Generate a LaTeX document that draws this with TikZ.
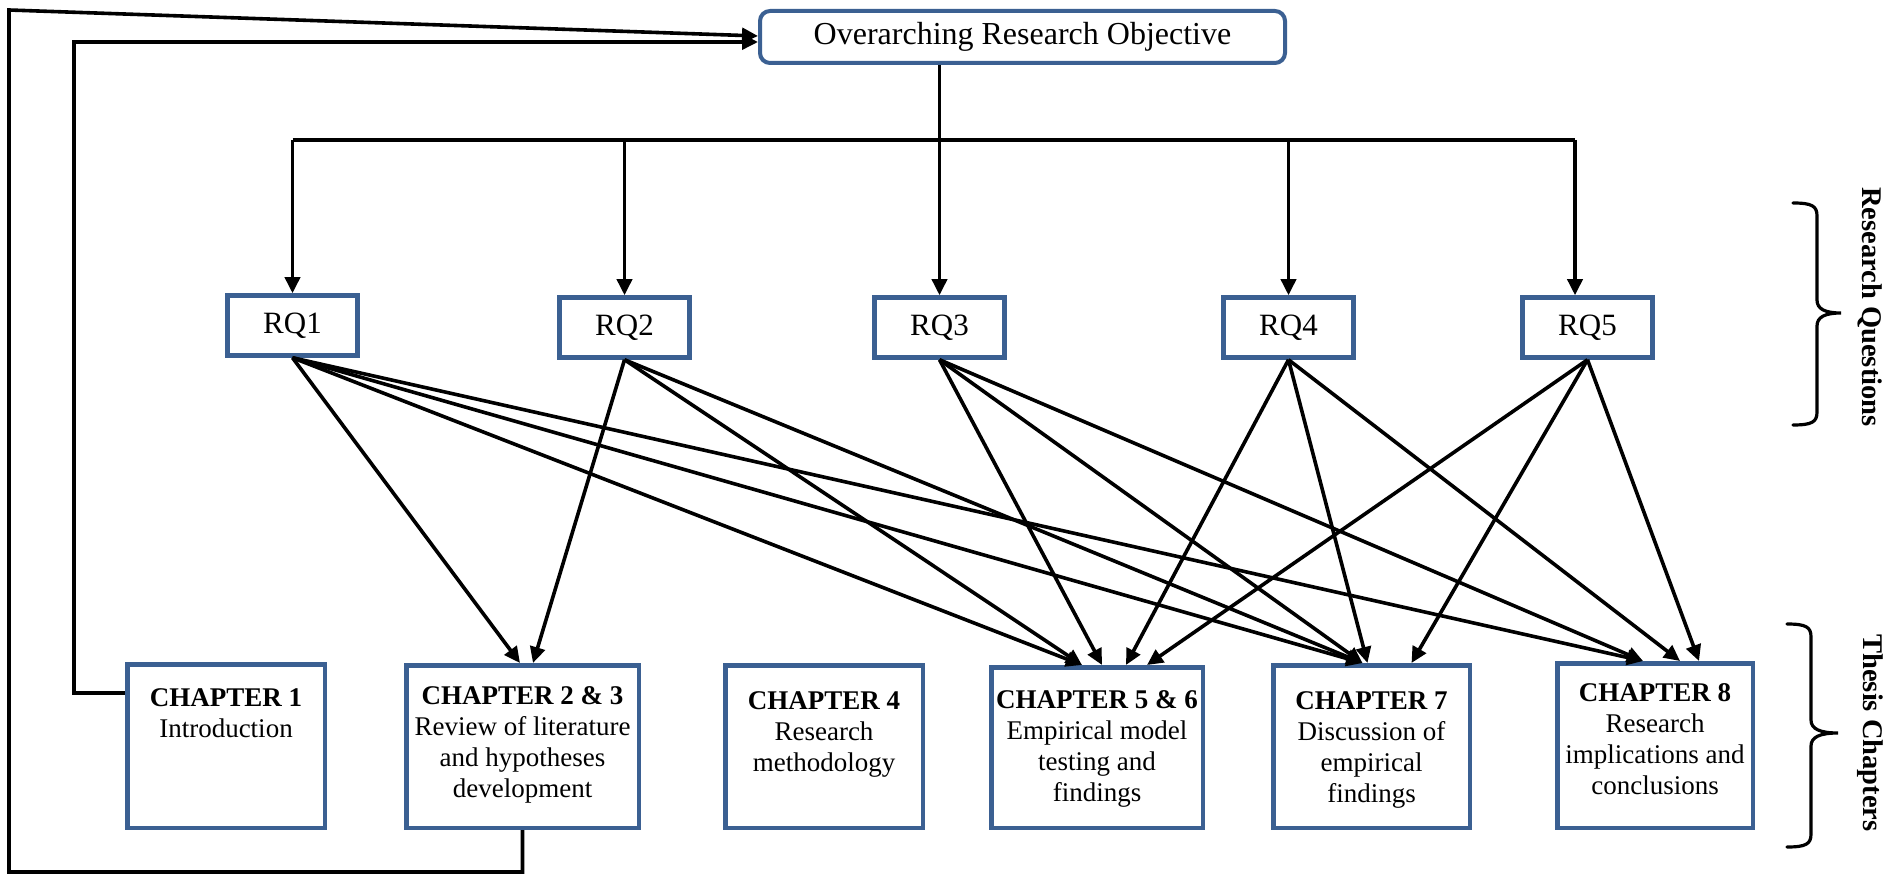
\documentclass[tikz,border=0pt]{standalone}
\usepackage{fontspec}
\setmainfont{Liberation Serif}
\usetikzlibrary{arrows.meta}
\definecolor{boxblue}{HTML}{3B6092}
\begin{document}
\begin{tikzpicture}[x=1pt,y=-1pt,
  topbox/.style={draw=boxblue, line width=4pt, rounded corners=10pt, minimum width=525pt, minimum height=52pt, inner sep=0pt, font=\fontsize{32}{36}\selectfont},
  rqbox/.style={draw=boxblue, line width=4.5pt, minimum width=130pt, minimum height=60pt, inner sep=0pt, font=\fontsize{31}{36}\selectfont},
  chbox/.style={draw=boxblue, line width=4.5pt, inner sep=0pt},
  chtxt/.style={anchor=north, align=center, inner sep=0pt, font=\fontsize{27}{31}\selectfont},
  conn/.style={line width=3.6pt, -{Triangle[length=16pt,width=15pt]}},
  wire/.style={line width=3.8pt},
  bracepath/.style={line width=3.2pt, line cap=round},
  sidelabel/.style={rotate=-90, inner sep=0pt, font=\fontsize{28.5}{32}\selectfont\bfseries}
]
\useasboundingbox (0,0) rectangle (1901,874);

% objective and research questions
\node[topbox] (top) at (1022.5,37) {Overarching Research Objective};
\node[rqbox] (rq1) at (292.5,325.5) {RQ1};
\node[rqbox] (rq2) at (624.5,327.5) {RQ2};
\node[rqbox] (rq3) at (939.5,327.5) {RQ3};
\node[rqbox] (rq4) at (1288.5,327.5) {RQ4};
\node[rqbox] (rq5) at (1587.5,327.5) {RQ5};

% thesis chapters
\node[chbox, minimum width=197.5pt, minimum height=163.5pt] (ch1) at (226,746) {};
\node[chbox, minimum width=232.5pt, minimum height=162.5pt] (ch23) at (522.5,746.5) {};
\node[chbox, minimum width=197.5pt, minimum height=162.5pt] (ch4) at (824,746.5) {};
\node[chbox, minimum width=211.5pt, minimum height=160.5pt] (ch56) at (1097,747.5) {};
\node[chbox, minimum width=196.5pt, minimum height=162.5pt] (ch7) at (1371.5,746.5) {};
\node[chbox, minimum width=195.5pt, minimum height=164.5pt] (ch8) at (1655,745.5) {};

\node[chtxt] (ch1t) at ([yshift=-26pt]ch1.north) {\textbf{CHAPTER 1}\\Introduction};
\node[chtxt] (ch23t) at ([yshift=-23pt]ch23.north) {\textbf{CHAPTER 2 \& 3}\\Review of literature\\and hypotheses\\development};
\node[chtxt] (ch4t) at ([yshift=-28pt]ch4.north) {\textbf{CHAPTER 4}\\Research\\methodology};
\node[chtxt] (ch56t) at ([yshift=-25pt]ch56.north) {\textbf{CHAPTER 5 \& 6}\\Empirical model\\testing and\\findings};
\node[chtxt] (ch7t) at ([yshift=-28pt]ch7.north) {\textbf{CHAPTER 7}\\Discussion of\\empirical\\findings};
\node[chtxt] (ch8t) at ([yshift=-22pt]ch8.north) {\textbf{CHAPTER 8}\\Research\\implications and\\conclusions};

% distribution bus from the objective to the questions
\coordinate (bus) at (940,140);
\coordinate (rq5in) at ([xshift=-12.5pt]rq5.north);
\draw[wire] (bus -| rq1.north) -- (bus -| rq5in);
\draw[conn] (top.south -| rq3.north) -- (rq3.north);
\draw[conn] (bus -| rq1.north) -- (rq1.north);
\draw[conn] (bus -| rq2.north) -- (rq2.north);
\draw[conn] (bus -| rq4.north) -- (rq4.north);
\draw[conn] (bus -| rq5in) -- (rq5in);

% feedback loops back to the objective
\coordinate (loopA) at (74,42);
\draw[conn] ([yshift=53pt]ch1.west) -| (loopA) -- (top.west |- loopA);
\coordinate (loopB) at (9,10);
\coordinate (loopBlow) at (9,872);
\draw[conn] (ch23.south) |- (loopBlow) -- (loopB) -- ([yshift=1pt]top.west);

% questions addressed in chapters
\draw[conn] (rq1.south) -- ([xshift=-2.5pt]ch23.north);
\draw[conn] (rq1.south) -- ([xshift=-15pt]ch56.north);
\draw[conn] (rq1.south) -- ([xshift=-9pt]ch7.north);
\draw[conn] (rq1.south) -- ([xshift=-12pt]ch8.north);
\draw[conn] (rq2.south) -- ([xshift=10.5pt]ch23.north);
\draw[conn] (rq2.south) -- ([xshift=-15pt]ch56.north);
\draw[conn] (rq2.south) -- ([xshift=-9pt]ch7.north);
\draw[conn] (rq3.south) -- ([xshift=5pt]ch56.north);
\draw[conn] (rq3.south) -- ([xshift=-9pt]ch7.north);
\draw[conn] (rq3.south) -- ([xshift=-12pt]ch8.north);
\draw[conn] (rq4.south) -- ([xshift=29pt]ch56.north);
\draw[conn] (rq4.south) -- ([xshift=-4pt]ch7.north);
\draw[conn] (rq4.south) -- ([xshift=25pt]ch8.north);
\draw[conn] (rq5.south) -- ([xshift=50pt]ch56.north);
\draw[conn] (rq5.south) -- ([xshift=40pt]ch7.north);
\draw[conn] (rq5.south) -- ([xshift=44pt]ch8.north);

% side braces with their labels
\draw[bracepath] (1793,203) .. controls (1812,203) and (1817,206) .. (1817,216) -- (1817,300)
  .. controls (1817,309) and (1825,313) .. (1841,313)
  .. controls (1825,313) and (1817,317) .. (1817,326) -- (1817,412)
  .. controls (1817,422) and (1812,425) .. (1793,425);
\draw[bracepath] (1787,624) .. controls (1806,624) and (1811,627) .. (1811,637) -- (1811,720)
  .. controls (1811,729) and (1820,733) .. (1838,733)
  .. controls (1820,733) and (1811,737) .. (1811,746) -- (1811,834)
  .. controls (1811,844) and (1806,847) .. (1787,847);
\node[sidelabel] (rqlabel) at (1870,307) {Research Questions};
\node[sidelabel] (chlabel) at (1870,733) {Thesis Chapters};
\end{tikzpicture}
\end{document}
